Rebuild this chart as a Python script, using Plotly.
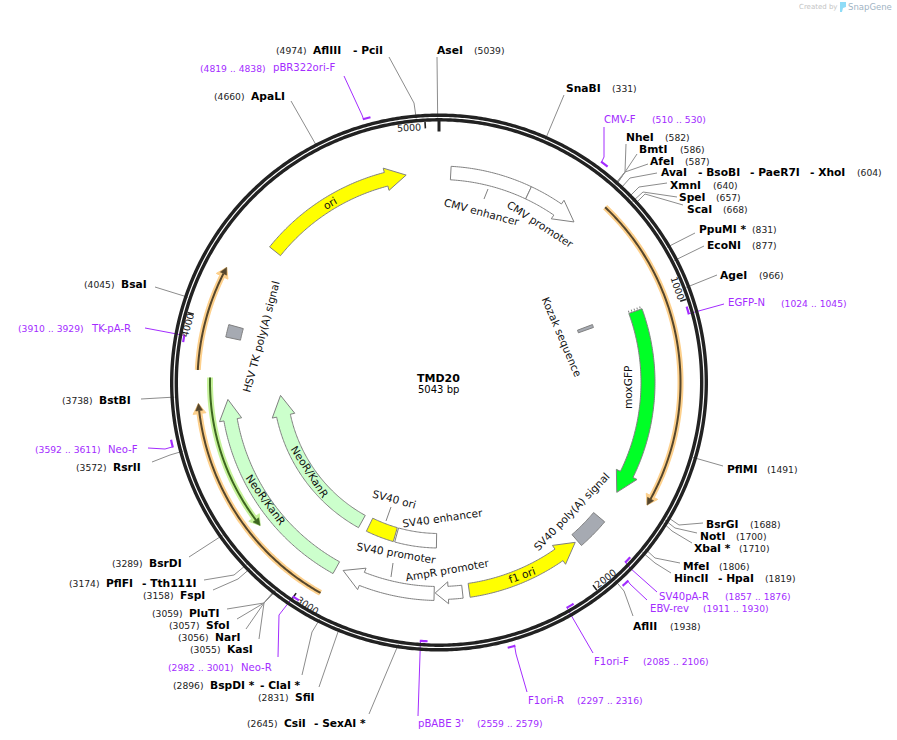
import numpy as np
import plotly.graph_objects as go

# ---------- data ----------
plasmid_name = "TMD20"
plasmid_bp = 5043
tick_values = [1000, 2000, 3000, 4000, 5000]

site_names = [["AflIII", "PciI"], ["AseI"], ["ApaLI"], ["SnaBI"], ["NheI"], ["BmtI"], ["AfeI"],
              ["AvaI", "BsoBI", "PaeR7I", "XhoI"], ["XmnI"], ["SpeI"], ["ScaI"], ["PpuMI *"], ["EcoNI"],
              ["AgeI"], ["PflMI"], ["BsrGI"], ["NotI"], ["XbaI *"], ["MfeI"], ["HincII", "HpaI"], ["AflII"],
              ["BsrDI"], ["PflFI", "Tth111I"], ["FspI"], ["PluTI"], ["SfoI"], ["NarI"], ["KasI"],
              ["BspDI *", "ClaI *"], ["SfiI"], ["CsiI", "SexAI *"], ["BsaI"], ["BstBI"], ["RsrII"]]
site_bp = [4974, 5039, 4660, 331, 582, 586, 587, 604, 640, 657, 668, 831, 877, 966, 1491, 1688, 1700, 1710,
           1806, 1819, 1938, 3289, 3174, 3158, 3059, 3057, 3056, 3055, 2896, 2831, 2645, 4045, 3738, 3572]

primer_names = ["pBR322ori-F", "CMV-F", "EGFP-N", "SV40pA-R", "EBV-rev", "F1ori-F", "F1ori-R", "pBABE 3'",
                "Neo-R", "Neo-F", "TK-pA-R"]
primer_start = [4819, 510, 1024, 1857, 1911, 2085, 2297, 2559, 2982, 3592, 3910]
primer_end = [4838, 530, 1045, 1876, 1930, 2106, 2316, 2579, 3001, 3611, 3929]
primer_outer = [True, True, False, False, True, False, True, False, False, True, False]

feature_names = ["CMV enhancer", "CMV promoter", "ori", "moxGFP", "Kozak sequence", "SV40 poly(A) signal",
                 "f1 ori", "AmpR promoter", "SV40 promoter", "SV40 enhancer", "SV40 ori", "NeoR/KanR",
                 "NeoR/KanR", "HSV TK poly(A) signal"]
feature_start = [45, 354, 4324, 981, 971, 1822, 1955, 2432, 2540, 2534, 2746, 2928, 2928, 3951]
feature_end = [354, 561, 4917, 1705, 986, 1945, 2406, 2536, 2900, 2739, 2886, 3717, 3718, 3998]
feature_dir = [0, 1, 1, 1, 0, 0, -1, 1, 1, 0, 0, 1, 1, 0]

orf_start = [609, 2933, 3824, 3241]
orf_end = [1688, 3712, 4181, 3800]
orf_dir = [1, 1, 1, -1]

# ---------- layout of the drawing (pixels of the 897x740 page) ----------
W, H = 897, 740
CX, CY, RMAX = 439.0, 382.5, 355.0
FONT = "DejaVu Sans"
GREY = "#808080"
PURPLE = "#a32cff"
LEAD = "#8c8c8c"

# number x, [name x...], y
site_text = [(276, [313, 353], 50.5), (474, [437], 50.5), (214, [251], 96), (612, [566], 88), (665, [626], 137),
             (680, [639], 149), (685, [650], 161), (857, [661, 698, 750, 810], 173), (713, [670], 185),
             (716, [679], 197), (723, [687], 209), (752, [699], 229), (752, [707], 245), (759, [720], 275),
             (767, [727], 469), (750, [706], 524), (736, [700], 536), (739, [694], 548), (719, [683], 566),
             (765, [674, 718], 578), (670, [633], 626), (112, [149], 563), (69, [106, 142], 583),
             (143, [180], 595), (152, [189], 613), (169, [206], 625), (178, [215], 637), (190, [227], 649),
             (173, [210, 260], 685), (258, [295], 697), (247, [284, 314], 723), (84, [121], 285),
             (62, [99], 400), (76, [113], 467)]
# leader bends and ends after the point on the ring
site_lead = [[(414, 103), (389, 57)], [(437, 57)], [(291, 101)], [(564, 95)], [(625, 172), (626, 144)],
             [(625, 172), (637, 154)], [(625, 172), (648, 164)], [(630, 178), (657, 173)], [(639, 187), (667, 183)],
             [(643, 192), (677, 197)], [(645, 194), (683, 205)], [(695, 233)], [(704, 246)], [(717, 275)],
             [(723, 466)], [(679, 525), (703, 523)], [(675, 528), (697, 533)], [(672, 531), (692, 543)],
             [(655, 558), (680, 563)], [(655, 563), (671, 573)], [(624, 591), (633, 616)], [(189, 557)],
             [(234, 575), (204, 580)], [(238, 579), (213, 590)], [(264, 603), (227, 609)], [(264, 603), (237, 619)],
             [(264, 603), (246, 629)], [(264, 603), (259, 639)], [(312, 632), (302, 675)], [(319, 687)],
             [(369, 714)], [(155, 287)], [(141, 399)], [(170, 455), (152, 462)]]

# name x, range x, y
primer_text = [(273, 200, 68), (604, 652, 119), (728, 781, 303), (659, 725, 596), (650, 703, 608), (594, 643, 661),
               (528, 577, 700), (418, 477, 723), (241, 168, 667), (108, 35, 449), (91, 18, 328)]
primer_lead = [[(362, 115), (344, 76)], [(604, 157), (604, 127)], [(695, 312), (724, 304)], [(630, 568), (657, 592)],
               [(630, 584), (647, 600)], [(571, 615), (593, 653)], [(516, 654), (527, 692)], [(418, 716)],
               [(279, 615), (278, 657)], [(165, 449), (148, 448)], [(145, 328)]]

# radial band of each feature (inner, outer), head length in px, fill
feature_band = [(203, 216.5), (203, 216.5), (203, 217), (202, 216), (148, 164), (202, 216.5), (203, 217), (204, 217),
                (204, 218), (151, 165.5), (151, 165.5), (152, 166), (205, 218.5), (203, 218)]
feature_head = [0, 20.5, 20.5, 20.5, 0, 0, 20.5, 13, 20.5, 0, 0, 20.5, 20.5, 0]
feature_fill = ["#ffffff", "#ffffff", "#ffff00", "#00ff26", "#a6aab2", "#a6aab2", "#ffff00", "#ffffff", "#ffffff",
                "#ffffff", "#ffff00", "#ccffcc", "#ccffcc", "#a6aab2"]
# label centre x, y, angle
feature_text = [(482, 212, 15), (540, 224, 33), (330, 203, -30), (628, 387, -90), (562, 337, 67), (571, 512, -46),
                (522, 575, -20), (447, 570, -10), (396, 553, 10), (442, 518, -8), (394, 499, 15), (310, 472, 57),
                (266, 500, 54), (261, 337, -75)]
feature_lead = [((488, 189), (484, 199)), ((393, 563), (391, 577)), ((391, 507), (386, 521))]

orf_radius = [241.5, 241.5, 241.5, 229]
orf_halo = ["#fdd08c", "#fdd08c", "#fdd08c", "#c6f29a"]
orf_core = ["#55462c", "#55462c", "#55462c", "#3d6620"]

tick_text = [(678, 288), (605, 578), (308, 605), (187, 325), (409, 127)]


def ang(bp):
    return np.asarray(bp, dtype=float) / plasmid_bp * 360.0


def px(x, y):
    """page pixel -> (theta, r) of the polar subplot"""
    dx, dy = x - CX, y - CY
    return float(np.degrees(np.arctan2(dx, -dy))) % 360, float(np.hypot(dx, dy))


fig = go.Figure()


def line(theta, r, color, width, dash=None):
    fig.add_trace(go.Scatterpolar(theta=list(theta), r=list(r), mode="lines", hoverinfo="skip", showlegend=False,
                                  line=dict(color=color, width=width, dash=dash)))


def poly(theta, r, fill, color=GREY, width=1):
    fig.add_trace(go.Scatterpolar(theta=list(theta) + [theta[0]], r=list(r) + [r[0]], mode="lines", fill="toself",
                                  fillcolor=fill, hoverinfo="skip", showlegend=False,
                                  line=dict(color=color, width=width)))


def arc(a0, a1, r):
    n = max(2, int(abs(a1 - a0) * 2) + 2)
    t = np.linspace(a0, a1, n)
    return t.tolist(), [r] * n


# leaders lie under the ring
for bp, pts in zip(site_bp, site_lead):
    xy = [px(*p) for p in pts]
    line([float(ang(bp))] + [a for a, _ in xy], [265.0] + [b for _, b in xy], LEAD, 1)

for s, e, out, pts in zip(primer_start, primer_end, primer_outer, primer_lead):
    xy = [px(*p) for p in pts]
    rr = 274.0 if out else 259.0
    end = s if out else e
    line([float(ang(end))] + [a for a, _ in xy], [rr] + [b for _, b in xy], PURPLE, 1)

# backbone
for rr, wd in ((267.3, 3.4), (262.7, 3.4)):
    t, r = arc(0, 360, rr)
    line(t, r, "#222222", wd)

for v in tick_values:
    line([float(ang(v))] * 2, [261.0, 254.5], "#222222", 1.6)
line([0.0, 0.0], [262.0, 251.0], "#222222", 3)

for s, e, out in zip(primer_start, primer_end, primer_outer):
    t, r = arc(float(ang(s)) - 0.15, float(ang(e)) + 0.15, 274.0 if out else 259.0)
    line(t, r, PURPLE, 2.2)

# feature leaders
for a, b in feature_lead:
    pa, pb = px(*a), px(*b)
    line([pa[0], pb[0]], [pa[1], pb[1]], GREY, 1)

# features
for s, e, d, band, head, fill in zip(feature_start, feature_end, feature_dir, feature_band, feature_head,
                                     feature_fill):
    a0, a1 = float(ang(s)), float(ang(e))
    ri, ro = band
    if d == 0:
        ti, ri_ = arc(a0, a1, ri)
        to, ro_ = arc(a1, a0, ro)
        poly(ti + to, ri_ + ro_, fill)
        continue
    rm = (ri + ro) / 2
    hd = float(np.degrees(head / rm))
    bar = 4.5
    if d > 0:
        tail, tip = a0, a1
        neck = a1 - hd
    else:
        tail, tip = a1, a0
        neck = a0 + hd
    t_in, r_in = arc(tail, neck, ri)
    t_out, r_out = arc(neck, tail, ro)
    poly(t_in + [neck, tip, neck] + t_out, r_in + [ri - bar, rm, ro + bar] + r_out, fill)
    if s == 981:
        a = a0 - 0.5
        line([a, a], [ri, ro], GREY, 2, "1px,2px")

# open reading frames
for s, e, d, rr, halo, core in zip(orf_start, orf_end, orf_dir, orf_radius, orf_halo, orf_core):
    a0, a1 = float(ang(s)), float(ang(e))
    tail, tip = (a0, a1) if d > 0 else (a1, a0)
    sign = 1 if d > 0 else -1
    neck = tip - sign * float(np.degrees(10 / rr))
    t, r = arc(tail, neck, rr)
    line(t, r, halo, 6)
    poly([neck, tip, neck], [rr - 6.5, rr, rr + 6.5], halo, halo, 1)
    neck2 = tip - sign * float(np.degrees(7 / rr))
    t, r = arc(tail, neck2, rr)
    line(t, r, core, 2)
    poly([neck2, tip, neck2], [rr - 3.5, rr, rr + 3.5], core, core, 0.5)

# ---------- text ----------
ann = []


def label(x, y, text, size, color="#000000", angle=0, xanchor="left"):
    ann.append(dict(xref="paper", yref="paper", x=x / W, y=1 - y / H, text=text, showarrow=False, textangle=angle,
                    xanchor=xanchor, yanchor="middle", borderpad=0, borderwidth=0,
                    font=dict(family=FONT, size=size, color=color)))


for names, bp, (xn, xs, y) in zip(site_names, site_bp, site_text):
    label(xn, y, f"({bp})", 9.2, "#222222")
    for i, (nm, x) in enumerate(zip(names, xs)):
        label(x, y, f"<b>{'- ' if i else ''}{nm}</b>", 10.7)

for nm, s, e, (xn, xr, y) in zip(primer_names, primer_start, primer_end, primer_text):
    label(xn, y, nm, 10.1, PURPLE)
    label(xr, y + 0.5, f"({s} .. {e})", 9.2, PURPLE)

for nm, (x, y, a) in zip(feature_names, feature_text):
    label(x, y, nm, 10.6, "#111111", a, "center")

for v, (x, y) in zip(tick_values, tick_text):
    t = float(ang(v))
    a = t if t < 90 else (t - 180 if t < 270 else t - 360)
    label(x, y, str(v), 9.5, "#222222", a, "center")

label(438.5, 378, f"<b>{plasmid_name}</b>", 11, xanchor="center")
label(438.5, 390, f"{plasmid_bp} bp", 10, xanchor="center")

label(799, 7, "Created by", 7, "#c4c4c4")
label(848, 7, "SnapGene", 8.5, "#9fb4c4")

logo = dict(type="path", xref="paper", yref="paper", fillcolor="#8fdcf7", line=dict(width=0),
            path=" ".join(f"{c}{x / W:.5f},{1 - y / H:.5f}" for c, x, y in
                          [("M", 840, 2), ("L", 846, 2), ("L", 846, 7), ("L", 843, 8), ("L", 842, 12), ("L", 840, 12)])
            + " Z")

fig.update_layout(
    width=W, height=H, margin=dict(l=0, r=0, t=0, b=0, pad=0), autosize=False, showlegend=False,
    paper_bgcolor="#ffffff", plot_bgcolor="#ffffff", annotations=ann, shapes=[logo],
    polar=dict(
        domain=dict(x=[(CX - RMAX) / W, (CX + RMAX) / W], y=[1 - (CY + RMAX) / H, 1 - (CY - RMAX) / H]),
        bgcolor="rgba(0,0,0,0)",
        radialaxis=dict(visible=False, range=[0, RMAX]),
        angularaxis=dict(visible=False, rotation=90, direction="clockwise"),
    ),
)

fig.write_html("out.html", config=dict(displayModeBar=False),
               post_script="document.body.style.margin='0';document.body.style.overflow='hidden';")
